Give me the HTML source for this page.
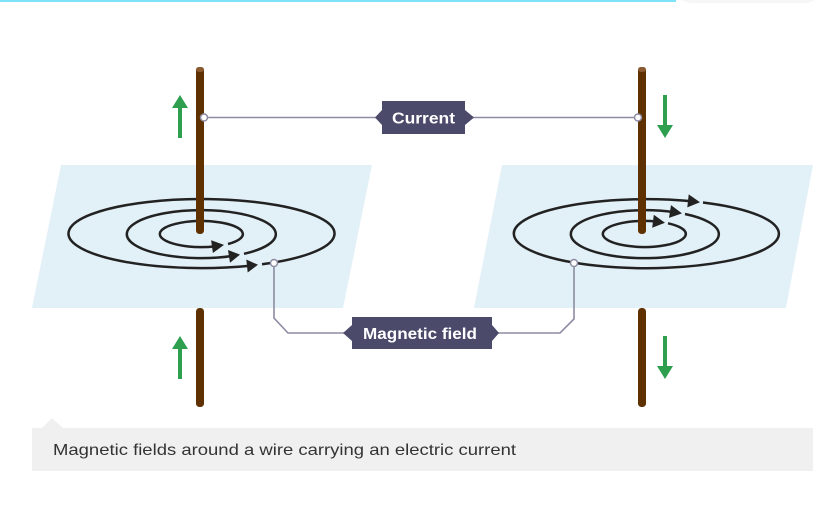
<!DOCTYPE html>
<html>
<head>
<meta charset="utf-8">
<style>
html,body{margin:0;padding:0;background:#fff;}
svg{display:block;}
</style>
</head>
<body>
<svg width="819" height="514" viewBox="0 0 819 514" xmlns="http://www.w3.org/2000/svg">
  <rect x="0" y="0" width="819" height="514" fill="#ffffff"/>
  <!-- top bar -->
  <rect x="0" y="0" width="676" height="2" fill="#7fe3f7"/>
  <path d="M680 0 H815 L808 3 H690 Z" fill="#f6f6f6"/>

  <!-- planes -->
  <polygon points="61,165 372,165 343,308 32,308" fill="#e2f0f7"/>
  <polygon points="502,165 813,165 786,308 474,308" fill="#e2f0f7"/>

  <!-- left ellipses -->
  <g fill="none" stroke="#222" stroke-width="2.5">
    <path d="M228 244.0 A41.5 13 0 1 0 216 246.2"/>
    <path d="M244 253.8 A74.5 24 0 1 0 232 256"/>
    <path d="M262 264.3 A133 34.5 0 1 0 250 265.7"/>
  </g>
  <g fill="#222">
    <polygon points="224,244.9 212.9,253.0 211.1,240.2"/>
    <polygon points="240,254.6 230,262.8 228,250"/>
    <polygon points="258,264.8 247.7,272.5 246.3,259.5"/>
  </g>

  <!-- right ellipses -->
  <g fill="none" stroke="#222" stroke-width="2.5">
    <path d="M668 223.3 A41.5 13 0 1 1 657 221.6"/>
    <path d="M685 214.0 A74 24 0 1 1 674 212.1"/>
    <path d="M703 202.5 A132.5 34.5 0 1 1 692 201.3"/>
  </g>
  <g fill="#222">
    <polygon points="665,222.7 652.2,227.8 653.8,214.8"/>
    <polygon points="682,213.4 669,217.9 671,205.1"/>
    <polygon points="700,202.2 687.3,207.4 688.7,194.4"/>
  </g>

  <!-- wires -->
  <g fill="#5f3000">
    <rect x="196" y="67" width="8" height="167" rx="3.5"/>
    <rect x="196" y="308" width="8" height="99" rx="3.5"/>
    <rect x="638" y="67" width="8" height="167" rx="3.5"/>
    <rect x="638" y="308" width="8" height="99" rx="3.5"/>
  </g>
  <rect x="196" y="67" width="8" height="5" rx="3" fill="#8a5a30"/>
  <rect x="638" y="67" width="8" height="5" rx="3" fill="#8a5a30"/>

  <!-- green arrows -->
  <g fill="#2e9e4f">
    <polygon points="180,95 172,108 188,108"/>
    <rect x="178" y="106" width="4" height="32"/>
    <polygon points="180,336 172,349 188,349"/>
    <rect x="178" y="347" width="4" height="32"/>
    <rect x="663" y="95" width="4" height="32"/>
    <polygon points="657,125 673,125 665,138"/>
    <rect x="663" y="336" width="4" height="32"/>
    <polygon points="657,366 673,366 665,379"/>
  </g>

  <!-- connectors -->
  <g fill="none" stroke="#8d8ca3" stroke-width="1.6">
    <line x1="204" y1="117.5" x2="376" y2="117.5"/>
    <line x1="473" y1="117.5" x2="638" y2="117.5"/>
    <path d="M274 263 V318 L288 333 H344"/>
    <path d="M498 333 H560 L574 319 V263"/>
  </g>
  <g fill="#ffffff" stroke="#8d8ca3" stroke-width="1.5">
    <circle cx="204" cy="117.5" r="3.5"/>
    <circle cx="638" cy="117.5" r="3.5"/>
    <circle cx="274" cy="263" r="3.5"/>
    <circle cx="574" cy="263" r="3.5"/>
  </g>

  <!-- labels -->
  <g fill="#4b4a6b">
    <rect x="382" y="101" width="83" height="33"/>
    <polygon points="375,117.5 382,110 382,125"/>
    <polygon points="474,117.5 465,110 465,125"/>
    <rect x="352" y="317" width="140" height="32"/>
    <polygon points="343,333 352,325 352,341"/>
    <polygon points="499,333 492,325 492,341"/>
  </g>
  <g fill="#ffffff" font-family="Liberation Sans, Arial, sans-serif" font-weight="bold" font-size="16">
    <text x="392" y="123.5" textLength="63" lengthAdjust="spacingAndGlyphs">Current</text>
    <text x="363" y="339" textLength="114" lengthAdjust="spacingAndGlyphs">Magnetic field</text>
  </g>

  <!-- caption -->
  <rect x="32" y="428" width="781" height="43" fill="#f0f0f0"/>
  <polygon points="42,428 52,418 63,428" fill="#f0f0f0"/>
  <text x="53" y="455" fill="#333333" font-family="Liberation Sans, Arial, sans-serif" font-size="16" textLength="463" lengthAdjust="spacingAndGlyphs">Magnetic fields around a wire carrying an electric current</text>
</svg>
</body>
</html>
